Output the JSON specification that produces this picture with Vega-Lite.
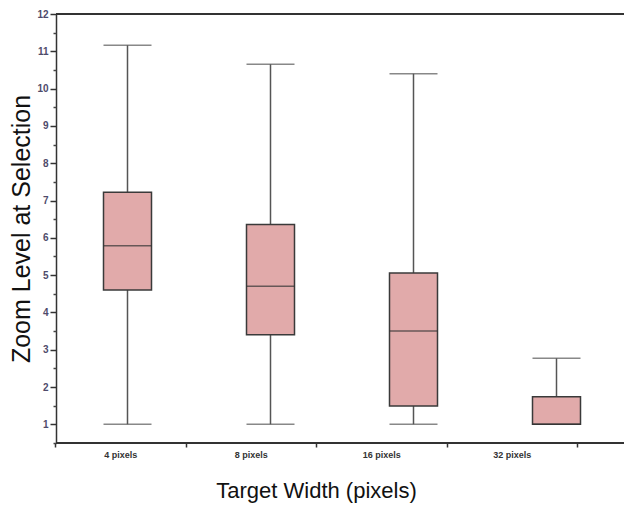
{
  "$schema": "https://vega.github.io/schema/vega-lite/v6.json",
  "width": 568,
  "height": 429,
  "autosize": {"type": "none"},
  "padding": {"left": 56, "top": 14, "right": 0, "bottom": 63},
  "background": "white",
  "config": {
    "view": {"stroke": null},
    "font": "Liberation Sans"
  },
  "data": {
    "values": [
      {"target": "4 pixels", "min": 1.0, "q1": 4.60, "median": 5.79, "q3": 7.22, "max": 11.16},
      {"target": "8 pixels", "min": 1.0, "q1": 3.40, "median": 4.70, "q3": 6.36, "max": 10.65},
      {"target": "16 pixels", "min": 1.0, "q1": 1.49, "median": 3.50, "q3": 5.06, "max": 10.40},
      {"target": "32 pixels", "min": 1.0, "q1": 1.0, "median": 1.0, "q3": 1.74, "max": 2.77}
    ]
  },
  "layer": [
    {
      "layer": [
        {
          "mark": {"type": "rule", "color": "#333333", "strokeWidth": 1.5},
          "encoding": {
            "y": {
              "datum": 12,
              "type": "quantitative",
              "scale": {"domain": [0.5, 12], "nice": false, "zero": false},
              "axis": {
                "values": [1, 2, 3, 4, 5, 6, 7, 8, 9, 10, 11, 12],
                "tickCount": 30,
                "format": "d",
                "orient": "left",
                "grid": false,
                "labelOverlap": false,
                "tickSize": 6,
                "tickWidth": 1.5,
                "tickColor": "#333333",
                "domainColor": "#333333",
                "domainWidth": 1.5,
                "labelFont": "Liberation Sans",
                "labelFontSize": 10,
                "labelFontWeight": "bold",
                "labelColor": "#4f4b6b",
                "labelPadding": 2,
                "title": "Zoom Level at Selection",
                "titleFont": "Liberation Sans",
                "titleFontSize": 25,
                "titleFontWeight": "normal",
                "titleColor": "#111111",
                "titlePadding": 2
              }
            }
          }
        },
        {
          "mark": {"type": "rule", "color": "#333333", "strokeWidth": 1.5},
          "encoding": {
            "y": {"datum": 0.5, "type": "quantitative"}
          }
        },
        {
          "mark": {"type": "rule", "color": "#555555", "strokeWidth": 1.5},
          "encoding": {
            "x": {
              "field": "target",
              "type": "nominal",
              "sort": ["4 pixels", "8 pixels", "16 pixels", "32 pixels"],
              "scale": {"type": "band", "range": [0, 572], "paddingInner": 0, "paddingOuter": 0},
              "axis": null
            },
            "y": {"field": "min", "type": "quantitative"},
            "y2": {"field": "max"}
          }
        },
        {
          "mark": {"type": "tick", "color": "#555555", "thickness": 1.5, "size": 48},
          "encoding": {
            "x": {"field": "target", "type": "nominal", "sort": ["4 pixels", "8 pixels", "16 pixels", "32 pixels"]},
            "y": {"field": "max", "type": "quantitative"}
          }
        },
        {
          "mark": {"type": "tick", "color": "#555555", "thickness": 1.5, "size": 48},
          "encoding": {
            "x": {"field": "target", "type": "nominal", "sort": ["4 pixels", "8 pixels", "16 pixels", "32 pixels"]},
            "y": {"field": "min", "type": "quantitative"}
          }
        },
        {
          "mark": {"type": "bar", "size": 48, "fill": "#e1aaaa", "stroke": "#3a3a3a", "strokeWidth": 1.5},
          "encoding": {
            "x": {"field": "target", "type": "nominal", "sort": ["4 pixels", "8 pixels", "16 pixels", "32 pixels"]},
            "y": {"field": "q1", "type": "quantitative"},
            "y2": {"field": "q3"}
          }
        },
        {
          "mark": {"type": "tick", "color": "#333333", "thickness": 1.5, "size": 48},
          "encoding": {
            "x": {"field": "target", "type": "nominal", "sort": ["4 pixels", "8 pixels", "16 pixels", "32 pixels"]},
            "y": {"field": "median", "type": "quantitative"}
          }
        }
      ]
    },
    {
      "mark": {"type": "tick", "opacity": 0},
      "encoding": {
        "x": {
          "field": "target",
          "type": "nominal",
          "sort": ["4 pixels", "8 pixels", "16 pixels", "32 pixels"],
          "scale": {"type": "band", "range": [-1, 521], "paddingInner": 0, "paddingOuter": 0},
          "axis": {
            "orient": "bottom",
            "domain": false,
            "grid": false,
            "tickBand": "extent",
            "tickSize": 4,
            "tickWidth": 1.5,
            "tickColor": "#333333",
            "labelAngle": 0,
            "labelFont": "Liberation Sans",
            "labelFontSize": 9,
            "labelFontWeight": "bold",
            "labelColor": "#333333",
            "labelPadding": 3,
            "title": "Target Width (pixels)",
            "titleFont": "Liberation Sans",
            "titleFontSize": 22,
            "titleFontWeight": "normal",
            "titleColor": "#111111",
            "titlePadding": 21
          }
        },
        "y": {
          "field": "min",
          "type": "quantitative",
          "axis": {
            "orient": "left",
            "values": [0.5, 1.5, 2.5, 3.5, 4.5, 5.5, 6.5, 7.5, 8.5, 9.5, 10.5, 11.5],
            "tickCount": 30,
            "labels": false,
            "domain": false,
            "grid": false,
            "tickSize": 3,
            "tickWidth": 1.5,
            "tickColor": "#444444",
            "title": null
          }
        }
      }
    }
  ],
  "resolve": {"scale": {"x": "independent"}, "axis": {"y": "independent"}}
}
